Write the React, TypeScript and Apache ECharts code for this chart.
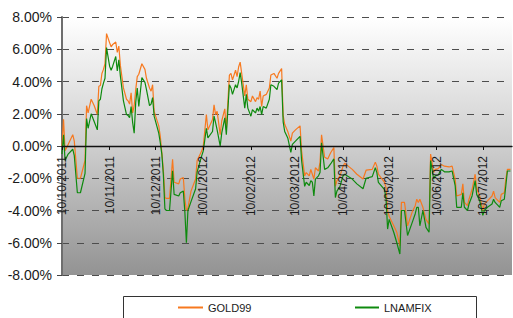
import React, { useEffect, useRef } from 'react';
import * as echarts from 'echarts';

const dates = [
  '2011-10-10','2011-10-11','2011-10-12','2011-10-14','2011-10-17','2011-10-18','2011-10-20','2011-10-22','2011-10-25','2011-10-26',
  '2011-10-27','2011-10-29','2011-10-31','2011-11-02','2011-11-03','2011-11-04','2011-11-05','2011-11-06','2011-11-07','2011-11-08',
  '2011-11-10','2011-11-11','2011-11-12','2011-11-14','2011-11-15','2011-11-16','2011-11-17','2011-11-19','2011-11-21','2011-11-22',
  '2011-11-23','2011-11-24','2011-11-25','2011-11-26','2011-11-27','2011-11-28','2011-11-29','2011-12-01','2011-12-03','2011-12-04',
  '2011-12-06','2011-12-07','2011-12-08','2011-12-09','2011-12-12','2011-12-13','2011-12-14','2011-12-15','2011-12-16','2011-12-17',
  '2011-12-19','2011-12-21','2011-12-22','2011-12-25','2011-12-26','2011-12-28','2011-12-29','2011-12-30','2011-12-31','2012-01-02',
  '2012-01-05','2012-01-06','2012-01-09','2012-01-10','2012-01-12','2012-01-13','2012-01-16','2012-01-17','2012-01-18','2012-01-19',
  '2012-01-21','2012-01-22','2012-01-24','2012-01-25','2012-01-27','2012-01-28','2012-01-29','2012-01-31','2012-02-01','2012-02-02',
  '2012-02-03','2012-02-04','2012-02-06','2012-02-07','2012-02-08','2012-02-10','2012-02-11','2012-02-13','2012-02-14','2012-02-15',
  '2012-02-16','2012-02-17','2012-02-18','2012-02-20','2012-02-22','2012-02-23','2012-02-25','2012-02-27','2012-02-28','2012-03-01',
  '2012-03-02','2012-03-03','2012-03-05','2012-03-07','2012-03-08','2012-03-10','2012-03-13','2012-03-14','2012-03-16','2012-03-17',
  '2012-03-19','2012-03-20','2012-03-21','2012-03-22','2012-03-23','2012-03-25','2012-03-26','2012-03-27','2012-03-29','2012-03-31',
  '2012-04-02','2012-04-04','2012-04-05','2012-04-06','2012-04-08','2012-04-10','2012-04-11','2012-04-16','2012-04-19','2012-04-23',
  '2012-04-25','2012-04-29','2012-05-01','2012-05-02','2012-05-03','2012-05-07','2012-05-08','2012-05-09','2012-05-10','2012-05-13',
  '2012-05-15','2012-05-17','2012-05-18','2012-05-20','2012-05-22','2012-05-25','2012-05-27','2012-05-28','2012-05-29','2012-05-30',
  '2012-06-01','2012-06-03','2012-06-05','2012-06-06','2012-06-08','2012-06-09','2012-06-11','2012-06-13','2012-06-15','2012-06-18',
  '2012-06-20','2012-06-22','2012-06-23','2012-06-26','2012-06-27','2012-06-28','2012-06-30','2012-07-01','2012-07-03','2012-07-05',
  '2012-07-06','2012-07-08','2012-07-10','2012-07-11','2012-07-13','2012-07-16','2012-07-17','2012-07-18','2012-07-20','2012-07-21',
  '2012-07-22','2012-07-24','2012-07-25','2012-07-26','2012-07-28',
];

const gold99 = [
  0.0, 1.65, -0.3, 0.1, 0.7, 0.3, -2.0, -2.0, -0.9, 2.5,
  2.05, 2.9, 2.5, 1.95, 3.7, 3.75, 4.5, 4.75, 5.1, 6.97,
  6.4, 6.15, 6.3, 6.45, 5.8, 6.2, 5.0, 3.6, 2.9, 2.8,
  2.6, 3.3, 2.05, 2.5, 3.5, 4.3, 4.45, 5.1, 4.75, 4.2,
  3.6, 3.4, 3.8, 2.15, 1.25, 0.6, -0.4, -1.5, -3.2, -3.25,
  -3.25, -0.82, -2.25, -2.35, -2.05, -1.95, -3.3, -4.0, -3.85, -2.8,
  -2.05, -0.9, -0.3, 0.0, 1.95, 1.0, 1.65, 2.55, 1.95, 2.15,
  0.7, 1.55, 2.3, 1.0, 4.4, 4.5, 4.1, 4.7, 4.3, 4.9,
  5.2, 4.5, 3.1, 3.8, 2.9, 2.75, 3.1, 2.75, 3.0, 2.9,
  3.4, 2.45, 3.1, 3.2, 3.6, 4.4, 4.5, 4.2, 4.5, 4.8,
  1.9, 1.35, 0.9, 0.3, 0.8, 1.0, 1.25, -0.3, -1.85, -1.65,
  -1.85, -1.45, -1.75, -2.05, -1.35, -1.55, -1.0, 0.7, -0.7, -0.8,
  -0.4, -0.1, -2.5, -2.15, -1.85, -1.25, -1.07, -1.45, -1.75, -2.05,
  -1.5, -1.45, -1.0, -1.25, -1.75, -2.25, -2.6, -4.0, -4.35, -4.95,
  -5.35, -6.2, -3.5, -3.5, -4.95, -4.1, -3.7, -3.3, -3.5, -3.3,
  -3.8, -4.55, -4.85, -0.5, -1.65, -1.45, -1.4, -1.15, -1.25, -1.3,
  -1.25, -2.05, -3.1, -3.0, -2.35, -3.5, -3.7, -3.3, -2.7, -1.75,
  -2.6, -3.1, -4.0, -3.6, -3.4, -3.1, -2.8, -3.2, -3.4, -3.5,
  -3.0, -2.9, -2.05, -1.45, -1.45,
];

const lnamfix = [
  -0.5, 0.7, -0.9, -0.5, -0.2, -0.6, -2.9, -2.9, -1.7, 1.7,
  1.1, 2.0, 1.5, 1.0, 2.8, 2.9, 3.55, 3.9, 4.2, 6.1,
  4.95, 4.7, 4.95, 5.55, 4.65, 5.35, 4.35, 2.8, 1.95, 1.9,
  1.75, 2.45, 1.45, 0.8, 2.7, 3.6, 2.45, 4.25, 3.95, 3.5,
  2.5, 2.6, 3.0, 1.85, 0.8, 0.2, -0.5, -1.8, -3.9, -4.0,
  -4.0, -1.54, -3.0, -3.1, -2.9, -2.8, -4.1, -6.0, -4.0, -3.45,
  -2.65, -1.6, -0.6, -0.3, 1.1, 0.5, 0.9, 1.85, 1.45, 1.0,
  0.0, 0.8, 1.75, 0.7, 3.8, 3.6, 3.2, 3.8, 3.6, 4.0,
  4.55, 3.9, 2.35, 3.2, 2.35, 1.85, 2.25, 2.05, 2.35, 2.15,
  2.45, 1.95, 2.45, 2.35, 2.9, 3.8, 3.7, 3.5, 3.9, 4.1,
  1.5, 0.9, 0.5, -0.4, 0.1, 0.3, 0.6, -0.9, -2.5, -2.25,
  -2.45, -2.15, -2.25, -3.1, -2.05, -1.85, -1.65, 0.2, -1.45, -1.35,
  -1.1, -0.8, -3.2, -2.8, -2.5, -1.85, -1.75, -2.05, -2.35, -2.65,
  -2.0, -1.9, -1.35, -1.65, -2.25, -2.7, -3.3, -5.15, -4.55, -5.35,
  -6.0, -6.7, -4.0, -4.0, -5.55, -4.75, -4.2, -3.8, -3.8, -4.95,
  -4.0, -5.05, -5.35, -0.9, -2.05, -1.85, -1.8, -1.45, -1.6, -1.6,
  -1.55, -2.45, -3.8, -3.8, -2.9, -3.8, -4.0, -3.6, -3.1, -2.15,
  -3.0, -3.4, -4.3, -4.0, -3.8, -3.6, -3.3, -3.5, -3.7, -3.8,
  -3.4, -3.3, -2.45, -1.55, -1.55,
];

const monthTicks = [
  '2011-10-10','2011-11-10','2011-12-10','2012-01-10','2012-02-10',
  '2012-03-10','2012-04-10','2012-05-10','2012-06-10','2012-07-10',
];

const axisStart = '2011-10-10';
const axisEnd = '2012-07-29';

const toTs = (s: string) => {
  const [y, m, d] = s.split('-').map(Number);
  return Date.UTC(y, m - 1, d);
};

const pad = (n: number) => (n < 10 ? '0' + n : '' + n);

export default function App() {
  const ref = useRef<HTMLDivElement>(null);

  useEffect(() => {
    document.body.style.margin = '0';
    if (!ref.current) return;
    const chart = echarts.init(ref.current, null, { renderer: 'svg' });
    const tickVals = monthTicks.map(toTs);
    const font = '"Liberation Sans", Arial, sans-serif';
    const gridTop = 17;
    const gridBottom = 43;
    const plotH = 318 - gridTop - gridBottom;

    chart.setOption({
      animation: false,
      textStyle: { fontFamily: font },
      grid: {
        left: 62,
        right: 1,
        top: gridTop,
        bottom: gridBottom,
        outerBoundsMode: 'none',
        containLabel: false,
        show: true,
        borderWidth: 0,
        backgroundColor: new echarts.graphic.LinearGradient(0, 0, 0, 1, [
          { offset: 0, color: '#ffffff' },
          { offset: 0.5, color: '#cecece' },
          { offset: 1, color: '#939393' },
        ]),
      },
      xAxis: {
        type: 'value',
        z: 5,
        min: toTs(axisStart),
        max: toTs(axisEnd),
        offset: -plotH / 2,
        axisLine: { onZero: false, lineStyle: { color: '#111', width: 1.3 } },
        axisTick: { show: true, customValues: tickVals, length: 4, lineStyle: { color: '#111' } },
        axisLabel: {
          customValues: tickVals,
          rotate: 90,
          margin: 10,
          fontSize: 12,
          color: '#1a1a1a',
          fontFamily: font,
          formatter: (v: number) => {
            const d = new Date(v);
            return pad(d.getUTCDate()) + '/' + pad(d.getUTCMonth() + 1) + '/' + d.getUTCFullYear();
          },
        },
        splitLine: { show: false },
      },
      yAxis: {
        type: 'value',
        min: -8,
        max: 8,
        interval: 2,
        axisLine: { show: true, lineStyle: { color: '#6e6e6e', width: 2 } },
        axisTick: { show: true, length: 5, lineStyle: { color: '#444' } },
        axisLabel: {
          margin: 10,
          fontSize: 14,
          color: '#1a1a1a',
          fontFamily: font,
          formatter: (v: number) => v.toFixed(2) + '%',
        },
        splitLine: { show: true, lineStyle: { color: '#4d4d4d', type: [7, 8], width: 1 } },
      },
      legend: [
        {
          data: ['GOLD99'],
          left: 178,
          top: 302,
          padding: 0,
          itemWidth: 25,
          itemHeight: 2,
          icon: 'rect',
          textStyle: { fontSize: 11, color: '#1a1a1a', fontFamily: font },
        },
        {
          data: ['LNAMFIX'],
          left: 355,
          top: 302,
          padding: 0,
          itemWidth: 24,
          itemHeight: 2,
          icon: 'rect',
          textStyle: { fontSize: 11, color: '#1a1a1a', fontFamily: font },
        },
      ],
      graphic: [
        {
          type: 'rect',
          z: 0,
          shape: { x: 123.5, y: 296.5, width: 353, height: 40 },
          style: { fill: '#ffffff', stroke: '#333333', lineWidth: 1 },
        },
      ],
      series: [
        {
          name: 'GOLD99',
          type: 'line',
          data: dates.map((d, i) => [toTs(d), gold99[i]]),
          showSymbol: false,
          symbol: 'none',
          color: '#f7791f',
          lineStyle: { color: '#f7791f', width: 1.2 },
        },
        {
          name: 'LNAMFIX',
          type: 'line',
          data: dates.map((d, i) => [toTs(d), lnamfix[i]]),
          showSymbol: false,
          symbol: 'none',
          color: '#0e8a0e',
          lineStyle: { color: '#0e8a0e', width: 1.2 },
        },
      ],
    });

    return () => chart.dispose();
  }, []);

  return <div ref={ref} style={{ width: 513, height: 318 }} />;
}
